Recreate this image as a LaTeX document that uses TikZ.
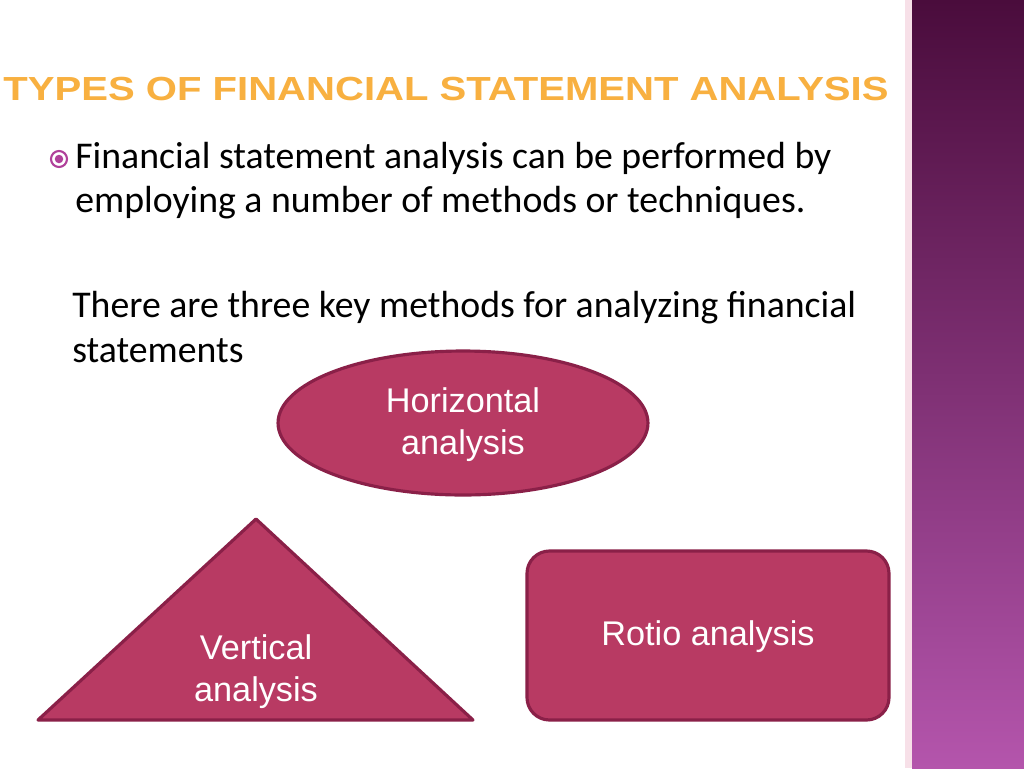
\documentclass[tikz,border=0pt]{standalone}
\usepackage{fontspec}
\setmainfont{Carlito}
\newfontfamily\arialf{Liberation Sans}
\usetikzlibrary{shapes.geometric}
\definecolor{shapefill}{HTML}{B83A63}
\definecolor{shapeline}{HTML}{8A2048}
\definecolor{titleor}{HTML}{F8B040}
\definecolor{bulletc}{HTML}{B0409A}
\definecolor{bartop}{HTML}{4A0C3C}
\definecolor{barbot}{HTML}{B455AC}
\tikzset{
  shp/.style={fill=shapefill,draw=shapeline,line width=1.8pt},
  lbl/.style={text=white,font=\arialf\fontsize{19.5}{24}\selectfont,align=center},
  body/.style={anchor=base west,font=\fontsize{21.5}{25}\selectfont,inner sep=0pt}
}
\begin{document}
\begin{tikzpicture}[x=0.02cm,y=-0.02cm]
\useasboundingbox (0,0) rectangle (1024,768);
\fill[white] (0,0) rectangle (1024,768);
\shade[top color=bartop,bottom color=barbot] (912,0) rectangle (1024,768);
\fill[purple!12] (905,0) rectangle (912,768);
\node[font=\arialf\bfseries\fontsize{19}{22}\selectfont,text=titleor,inner sep=0pt,xscale=1.2] (title) at (446,89) {TYPES OF FINANCIAL STATEMENT ANALYSIS};
\node[circle,draw=bulletc,line width=1.2pt,minimum size=0.32cm,inner sep=0pt] (bul) at (59,159) {};
\fill[bulletc] (bul.center) circle (0.085cm);
\node[body] (l1) at (75,168) {Financial statement analysis can be performed by};
\node[body] (l2) at (75,212) {employing a number of methods or techniques.};
\node[body] (l3) at (72,317) {There are three key methods for analyzing financial};
\node[body] (l4) at (72,362) {statements};
\node[shp,ellipse,minimum width=7.4cm,minimum height=2.88cm] (hor) at (463,423) {};
\node[lbl] (hort) at (463,425) {Horizontal\\analysis};
\draw[shp,line join=round] (256,519) -- (473,720) -- (38,720) -- cycle;
\node[lbl] (vert) at (256,672) {Vertical\\analysis};
\draw[shp,rounded corners=0.45cm] (527,551) rectangle (889,720);
\node[lbl] (rot) at (708,637) {Rotio analysis};
\end{tikzpicture}
\end{document}
